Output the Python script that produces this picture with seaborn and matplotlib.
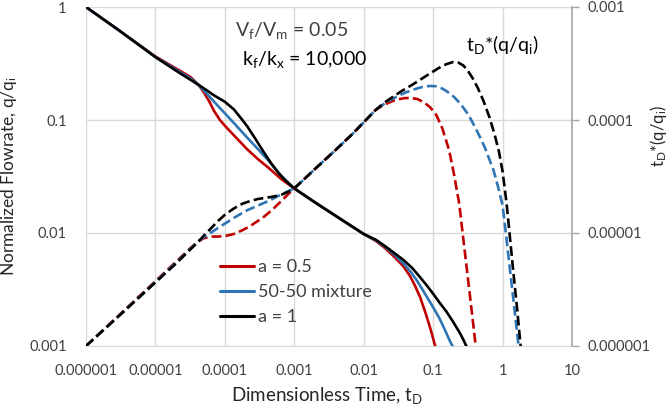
import pandas as pd
import seaborn as sns
import matplotlib.pyplot as plt
from matplotlib.ticker import FixedLocator, NullLocator

# flowrate q/qi (left axis)
t_rate_red = [1e-6, 3e-6, 1e-5, 2.2e-5, 3.2e-5, 4.2e-5, 5e-5, 6e-5, 7e-5, 8.5e-5, 1e-4, 1.3e-4, 1.7e-4,
              2.1e-4, 3e-4, 4.2e-4, 6.5e-4, 1e-3, 2e-3, 4e-3, 1e-2, 1.5e-2, 2e-2, 2.8e-2, 3.7e-2, 4.6e-2,
              5.5e-2, 6.5e-2, 7.9e-2, 9.2e-2, 0.107]
q_red = [1.0, 0.62, 0.365, 0.275, 0.24, 0.204, 0.175, 0.145, 0.12, 0.10, 0.089, 0.075, 0.063,
         0.055, 0.045, 0.038, 0.030, 0.0248, 0.0186, 0.0141, 0.0098, 0.0085, 0.0074, 0.0061, 0.0051, 0.0042,
         0.0034, 0.0027, 0.0019, 0.0014, 0.001]
t_rate_blue = [1e-6, 3e-6, 1e-5, 2.2e-5, 3.2e-5, 4.2e-5, 5.5e-5, 7e-5, 1e-4, 1.4e-4, 2.1e-4, 3e-4, 4.2e-4,
               6.5e-4, 1e-3, 2e-3, 4e-3, 1e-2, 1.5e-2, 2e-2, 2.8e-2, 3.7e-2, 4.8e-2, 6e-2, 7.9e-2, 0.1,
               0.125, 0.155, 0.175, 0.19]
q_blue = [1.0, 0.62, 0.362, 0.268, 0.233, 0.204, 0.171, 0.145, 0.1146, 0.0917, 0.0698, 0.0552, 0.0441,
          0.032, 0.0248, 0.0186, 0.0141, 0.0098, 0.0086, 0.0076, 0.0064, 0.0054, 0.0045, 0.0037, 0.0028, 0.0022,
          0.00173, 0.0013, 0.0011, 0.001]
t_rate_black = [1e-6, 3e-6, 1e-5, 2.2e-5, 3.2e-5, 4.2e-5, 5.5e-5, 7e-5, 1e-4, 1.35e-4, 1.7e-4, 2.1e-4, 2.8e-4,
                3.7e-4, 4.7e-4, 5.8e-4, 7.5e-4, 1e-3, 2e-3, 4e-3, 1e-2, 1.5e-2, 2e-2, 2.8e-2, 3.7e-2, 5e-2,
                6.5e-2, 7.9e-2, 0.1, 0.125, 0.155, 0.19, 0.238, 0.27, 0.30]
q_black = [1.0, 0.62, 0.36, 0.262, 0.227, 0.204, 0.183, 0.165, 0.145, 0.124, 0.104, 0.088, 0.067,
           0.051, 0.041, 0.0345, 0.029, 0.0248, 0.0186, 0.0141, 0.0098, 0.0087, 0.0077, 0.0066, 0.0058, 0.0049,
           0.00405, 0.0035, 0.0029, 0.0024, 0.00202, 0.00167, 0.00133, 0.00115, 0.001]

# derivative tD*(q/qi) (right axis)
t_der_red = [1e-6, 3e-6, 1e-5, 2e-5, 3e-5, 4e-5, 5e-5, 6.5e-5, 8e-5, 1e-4, 1.35e-4, 1.8e-4, 2.3e-4,
             3e-4, 3.7e-4, 4.8e-4, 6.5e-4, 8e-4, 1e-3, 2e-3, 3.9e-3, 7e-3, 1.49e-2, 2e-2, 2.8e-2,
             3.8e-2, 4.8e-2, 6e-2, 7.4e-2, 9e-2, 0.11, 0.135, 0.17, 0.2, 0.238, 0.27, 0.30, 0.35, 0.41]
d_red = [1e-6, 1.88e-6, 3.75e-6, 5.6e-6, 7.1e-6, 8.3e-6, 9.0e-6, 9.3e-6, 9.3e-6, 9.4e-6, 9.8e-6, 1.06e-5, 1.15e-5,
         1.28e-5, 1.4e-5, 1.6e-5, 1.92e-5, 2.18e-5, 2.48e-5, 3.7e-5, 5.4e-5, 7.6e-5, 1.23e-4, 1.37e-4, 1.5e-4,
         1.56e-4, 1.57e-4, 1.53e-4, 1.43e-4, 1.3e-4, 1.12e-4, 8.5e-5, 5.4e-5, 3.3e-5, 1.8e-5, 9.2e-6, 5.3e-6,
         2.35e-6, 1e-6]
t_der_blue = [1e-6, 3e-6, 1e-5, 2e-5, 3e-5, 4e-5, 5e-5, 6.5e-5, 8e-5, 1e-4, 1.4e-4, 2.1e-4, 3e-4, 3.7e-4,
              5e-4, 6.5e-4, 8e-4, 1e-3, 2e-3, 3.9e-3, 7e-3, 1.49e-2, 2e-2, 2.8e-2, 4e-2, 5.5e-2, 7e-2, 8.75e-2,
              0.11, 0.135, 0.16, 0.2, 0.25, 0.32, 0.42, 0.55, 0.74, 0.87, 1.0, 1.13, 1.26, 1.45, 1.7]
d_blue = [1e-6, 1.86e-6, 3.7e-6, 5.5e-6, 7.0e-6, 8.3e-6, 9.2e-6, 1.02e-5, 1.11e-5, 1.21e-5, 1.38e-5, 1.59e-5,
          1.75e-5, 1.85e-5, 2.02e-5, 2.2e-5, 2.33e-5, 2.48e-5, 3.7e-5, 5.4e-5, 7.6e-5, 1.23e-4, 1.4e-4, 1.58e-4,
          1.75e-4, 1.88e-4, 1.96e-4, 2.0e-4, 1.99e-4, 1.9e-4, 1.78e-4, 1.6e-4, 1.38e-4, 1.12e-4, 8.2e-5, 5.8e-5,
          3.6e-5, 2.5e-5, 1.75e-5, 9.3e-6, 5.1e-6, 2.4e-6, 1e-6]
t_der_black = [1e-6, 3e-6, 1e-5, 2e-5, 3e-5, 4e-5, 5e-5, 6.5e-5, 8e-5, 1e-4, 1.35e-4, 1.8e-4, 2.4e-4, 3e-4,
               3.7e-4, 5e-4, 6.5e-4, 8e-4, 1e-3, 2e-3, 3.9e-3, 7e-3, 1.49e-2, 2e-2, 3.4e-2, 5e-2, 8.3e-2, 0.12,
               0.155, 0.195, 0.23, 0.27, 0.31, 0.37, 0.44, 0.53, 0.65, 0.77, 0.89, 1.0, 1.14, 1.28, 1.42, 1.6, 1.82]
d_black = [1e-6, 1.85e-6, 3.65e-6, 5.4e-6, 6.9e-6, 8.2e-6, 9.5e-6, 1.12e-5, 1.28e-5, 1.45e-5, 1.65e-5, 1.82e-5,
           1.93e-5, 2.0e-5, 2.04e-5, 2.1e-5, 2.18e-5, 2.3e-5, 2.48e-5, 3.7e-5, 5.4e-5, 7.6e-5, 1.23e-4, 1.43e-4,
           1.78e-4, 2.05e-4, 2.5e-4, 2.88e-4, 3.12e-4, 3.26e-4, 3.22e-4, 3.05e-4, 2.78e-4, 2.35e-4, 1.92e-4,
           1.48e-4, 1.05e-4, 7.4e-5, 5.2e-5, 3.5e-5, 1.85e-5, 9.0e-6, 4.7e-6, 2.3e-6, 1e-6]

cases = ['a = 0.5', '50-50 mixture', 'a = 1']
colors = ['#C00000', '#2E75B6', '#000000']

x_ticks = [1e-6, 1e-5, 1e-4, 1e-3, 1e-2, 1e-1, 1, 10]
x_labels = ['0.000001', '0.00001', '0.0001', '0.001', '0.01', '0.1', '1', '10']
y_ticks = [1e-3, 1e-2, 1e-1, 1]
y_labels = ['0.001', '0.01', '0.1', '1']
y2_ticks = [1e-6, 1e-5, 1e-4, 1e-3]
y2_labels = ['0.000001', '0.00001', '0.0001', '0.001']

def frame(ts, vs, case):
    return pd.DataFrame({'t': ts, 'v': vs, 'case': case})

rate = pd.concat([frame(t_rate_red, q_red, cases[0]),
                  frame(t_rate_blue, q_blue, cases[1]),
                  frame(t_rate_black, q_black, cases[2])], ignore_index=True)
deriv = pd.concat([frame(t_der_red, d_red, cases[0]),
                   frame(t_der_blue, d_blue, cases[1]),
                   frame(t_der_black, d_black, cases[2])], ignore_index=True)

sns.set_style('white')
plt.rcParams['font.family'] = ['Lato', 'DejaVu Sans']
plt.rcParams['mathtext.default'] = 'regular'

fig = plt.figure(figsize=(6.68, 4.07), dpi=100)
ax = fig.add_axes([86/668, 1-346/407, 486/668, 339/407])
ax2 = ax.twinx()
pal = dict(zip(cases, colors))

sns.lineplot(data=rate, x='t', y='v', hue='case', palette=pal, sort=False, estimator=None,
             lw=1.9, ax=ax, legend=False, zorder=3)
sns.lineplot(data=deriv, x='t', y='v', hue='case', palette=pal, sort=False, estimator=None,
             lw=1.9, ls='--', ax=ax2, legend=False, zorder=3)

for a in (ax, ax2):
    a.set_xscale('log')
    a.set_yscale('log')
    a.set_xlim(1e-6, 10)
ax.set_ylim(1e-3, 1)
ax2.set_ylim(1e-6, 1e-3)

ax.xaxis.set_major_locator(FixedLocator(x_ticks))
ax.set_xticklabels(x_labels)
ax.yaxis.set_major_locator(FixedLocator(y_ticks))
ax.set_yticklabels(y_labels)
ax2.yaxis.set_major_locator(FixedLocator(y2_ticks))
ax2.set_yticklabels(y2_labels)
for a in (ax, ax2):
    a.xaxis.set_minor_locator(NullLocator())
    a.yaxis.set_minor_locator(NullLocator())

ax.grid(True, color='#d9d9d9', lw=1)
ax.tick_params(axis='both', length=0, labelsize=10.5, labelcolor='#404040')
ax.tick_params(axis='x', pad=13)
ax.tick_params(axis='y', pad=14)
ax2.tick_params(axis='y', length=5, width=1, color='#a6a6a6', labelsize=10.5, labelcolor='#404040', pad=6)

for a in (ax, ax2):
    for s in a.spines.values():
        s.set_visible(False)
ax2.spines['right'].set_visible(True)
ax2.spines['right'].set_color('#a6a6a6')
ax2.spines['right'].set_linewidth(1.2)
ax.spines['bottom'].set_visible(True)
ax.spines['bottom'].set_color('#d9d9d9')

ax.set_xlabel('Dimensionless Time, t$_D$', fontsize=13.5, color='#262626')
ax.set_ylabel('Normalized Flowrate, q/q$_i$', fontsize=12.5, color='#262626')
ax2.set_ylabel('t$_D$*(q/q$_i$)', fontsize=12, color='#262626')
ax.xaxis.set_label_coords(0.496, -0.115)
ax.yaxis.set_label_coords(-0.138, 0.5)
ax2.yaxis.set_label_coords(1.156, 0.62)

ax.text(0.422, 0.932, 'V$_f$/V$_m$ = 0.05', transform=ax.transAxes, ha='center', va='center',
        fontsize=14, color='#404040')
ax.text(0.449, 0.844, 'k$_f$/k$_x$ = 10,000', transform=ax.transAxes, ha='center', va='center',
        fontsize=14, color='#000000')
ax.text(0.856, 0.888, 't$_D$*(q/q$_i$)', transform=ax.transAxes, ha='center', va='center',
        fontsize=14, color='#000000')

handles = [plt.Line2D([], [], color=c, lw=2.2) for c in colors]
ax.legend(handles, cases, loc='upper left', bbox_to_anchor=(0.26, 0.277), frameon=False,
          fontsize=13, handlelength=1.9, handletextpad=0.25, labelspacing=0.5,
          borderaxespad=0, labelcolor='#404040')

fig.savefig('out.png', dpi=100)
